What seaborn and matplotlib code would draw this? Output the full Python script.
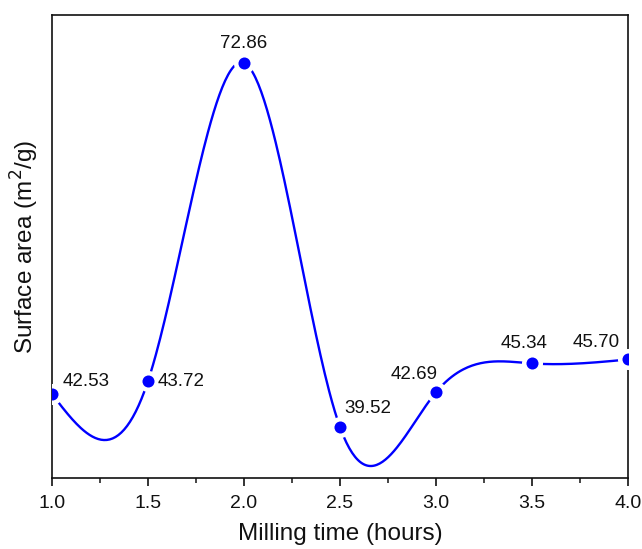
import numpy as np
import pandas as pd
import matplotlib
matplotlib.use("Agg")
import matplotlib.pyplot as plt
import seaborn as sns
from matplotlib.ticker import MultipleLocator

milling_time = [1.0, 1.5, 2.0, 2.5, 3.0, 3.5, 4.0]
surface_area = [42.53, 43.72, 72.86, 39.52, 42.69, 45.34, 45.70]
point_labels = ["42.53", "43.72", "72.86", "39.52", "42.69", "45.34", "45.70"]

sns.set_theme(style="ticks")
plt.rcParams['font.family'] = ['Liberation Sans', 'DejaVu Sans']


def natural_spline(x, y, n=400):
    x = np.asarray(x, float); y = np.asarray(y, float)
    k = len(x); h = np.diff(x)
    A = np.zeros((k, k)); b = np.zeros(k)
    A[0, 0] = 1; A[-1, -1] = 1
    for i in range(1, k - 1):
        A[i, i - 1] = h[i - 1]; A[i, i] = 2 * (h[i - 1] + h[i]); A[i, i + 1] = h[i]
        b[i] = 3 * ((y[i + 1] - y[i]) / h[i] - (y[i] - y[i - 1]) / h[i - 1])
    c = np.linalg.solve(A, b)
    xs = np.linspace(x[0], x[-1], n); ys = np.empty_like(xs)
    for j, xv in enumerate(xs):
        i = min(np.searchsorted(x, xv, side='right') - 1, k - 2)
        dx = xv - x[i]
        bb = (y[i + 1] - y[i]) / h[i] - h[i] * (2 * c[i] + c[i + 1]) / 3
        d = (c[i + 1] - c[i]) / (3 * h[i])
        ys[j] = y[i] + bb * dx + c[i] * dx ** 2 + d * dx ** 3
    return xs, ys


df = pd.DataFrame({"t": milling_time, "s": surface_area})
xs, ys = natural_spline(milling_time, surface_area)
curve = pd.DataFrame({"t": xs, "s": ys})

fig = plt.figure(figsize=(6.42, 5.49), dpi=100)
ax = fig.add_axes([0.081, 0.129, 0.897, 0.844])

sns.lineplot(data=curve, x="t", y="s", ax=ax, color="#0000ff", lw=1.7, zorder=2)
sns.scatterplot(data=df, x="t", y="s", ax=ax, color="white", s=230, linewidth=0, zorder=3)
sns.scatterplot(data=df, x="t", y="s", ax=ax, color="#0000ff", s=75, linewidth=0, zorder=4)

offsets = [(8, 3, 'left', 'bottom'), (7, 0, 'left', 'center'), (0, 8, 'center', 'bottom'),
           (3.5, 7, 'left', 'bottom'), (1, 6.5, 'right', 'bottom'), (-6, 8, 'center', 'bottom'),
           (-6, 6, 'right', 'bottom')]
for x, y, lab, (dx, dy, ha, va) in zip(milling_time, surface_area, point_labels, offsets):
    ax.annotate(lab, (x, y), xytext=(dx, dy), textcoords='offset points',
                ha=ha, va=va, fontsize=13.5, color='#111111')

ax.set_xlim(1.0, 4.0)
ax.set_ylim(34.83, 77.26)
ax.xaxis.set_minor_locator(MultipleLocator(0.25))
ax.set_xticks([1.0, 1.5, 2.0, 2.5, 3.0, 3.5, 4.0])
ax.set_xticklabels(["1.0", "1.5", "2.0", "2.5", "3.0", "3.5", "4.0"])
ax.set_yticks([])
ax.tick_params(axis='x', which='major', direction='out', length=6, width=1.2, labelsize=14, pad=6, colors='#111111')
ax.tick_params(axis='x', which='minor', direction='out', length=3.5, width=1.2)
for sp in ax.spines.values():
    sp.set_visible(True)
    sp.set_linewidth(1.2)
    sp.set_color('#111111')
ax.set_xlabel("Milling time (hours)", fontsize=17.5, labelpad=8, color='#111111')
ax.set_ylabel("Surface area (m$^2$/g)", fontsize=17.5, labelpad=8, color='#111111')

fig.savefig("out.png", dpi=100)
